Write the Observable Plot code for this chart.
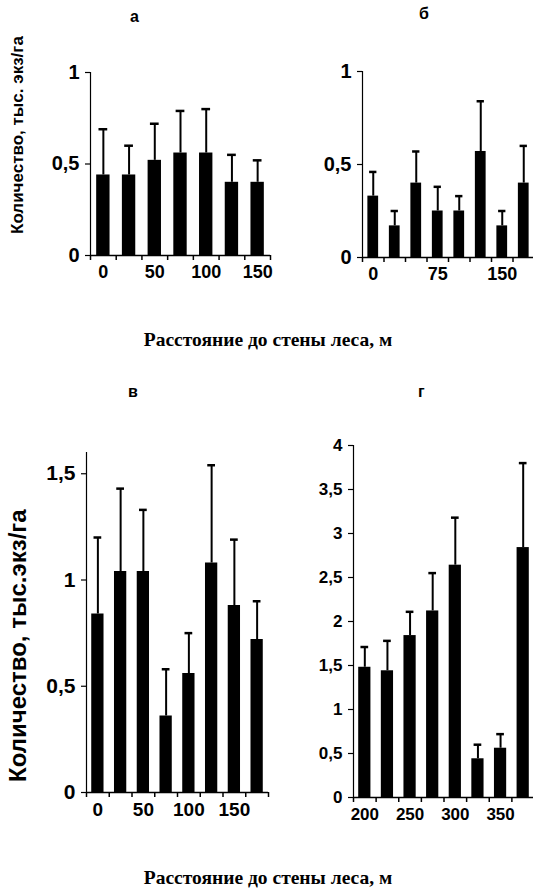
<!DOCTYPE html>
<html>
<head>
<meta charset="utf-8">
<script src="https://cdn.jsdelivr.net/npm/d3@7"></script>
<script src="https://cdn.jsdelivr.net/npm/@observablehq/plot@0.6"></script>
<style>
  body { margin: 0; background: #fff; }
  #wrap { position: relative; width: 533px; height: 892px; overflow: hidden; background: #fff; }
  .panel { position: absolute; }
  .lbl { position: absolute; font-family: "Liberation Sans", Arial, sans-serif; font-weight: bold; color: #000; white-space: nowrap; }
  .ttl { position: absolute; font-family: "Liberation Serif", "Times New Roman", serif; font-weight: bold; color: #000; white-space: nowrap; font-size: 19.5px; transform: translateX(-50%); }
  .ylab { position: absolute; font-family: "Liberation Sans", Arial, sans-serif; font-weight: bold; color: #000; white-space: nowrap; transform-origin: 0 0; }
</style>
</head>
<body>
<div id="wrap"></div>
<script>
// Panel а
const catsA = [0, 25, 50, 75, 100, 125, 150];
const valsA = [0.44, 0.44, 0.52, 0.56, 0.56, 0.40, 0.40];
const errsA = [0.69, 0.60, 0.72, 0.79, 0.80, 0.55, 0.52];
const xLabelsA = [0, 50, 100, 150];
const yTicksA = [0, 0.5, 1];

// Panel б
const catsB = [0, 25, 50, 75, 100, 125, 150, 175];
const valsB = [0.33, 0.17, 0.40, 0.25, 0.25, 0.57, 0.17, 0.40];
const errsB = [0.46, 0.25, 0.57, 0.38, 0.33, 0.84, 0.25, 0.60];
const xLabelsB = [0, 75, 150];
const yTicksB = [0, 0.5, 1];

// Panel в
const catsV = [0, 25, 50, 75, 100, 125, 150, 175];
const valsV = [0.84, 1.04, 1.04, 0.36, 0.56, 1.08, 0.88, 0.72];
const errsV = [1.20, 1.43, 1.33, 0.58, 0.75, 1.54, 1.19, 0.90];
const xLabelsV = [0, 50, 100, 150];
const yTicksV = [0, 0.5, 1, 1.5];

// Panel г
const catsG = [200, 225, 250, 275, 300, 325, 350, 375];
const valsG = [1.48, 1.44, 1.84, 2.12, 2.64, 0.44, 0.56, 2.84];
const errsG = [1.71, 1.78, 2.11, 2.55, 3.18, 0.60, 0.72, 3.80];
const xLabelsG = [200, 250, 300, 350];
const yTicksG = [0, 0.5, 1, 1.5, 2, 2.5, 3, 3.5, 4];

const panelTitles = ["а", "б", "в", "г"];
const xTitle = "Расстояние до стены леса, м";
const yTitleTop = "Количество, тыс. экз/га";
const yTitleBottom = "Количество, тыс.экз/га";

const wrap = document.getElementById("wrap");
const fmt = d => String(d).replace(".", ",");

function panel(cfg) {
  const {cats, vals, errs, xLabels, yTicks, yMax, left, top, width, height, ml, mr, mt, mb, barFrac, fontSize, yFontSize} = cfg;
  const step = cats[1] - cats[0];
  const data = cats.map((x, i) => ({x, v: vals[i], e: errs[i]}));
  const x0 = cats[0] - step / 2, x1 = cats[cats.length - 1] + step / 2;
  const bounds = cats.map(c => c - step / 2).concat([x1]);
  const chart = Plot.plot({
    width, height,
    marginLeft: ml, marginRight: mr, marginTop: mt, marginBottom: mb,
    style: {fontFamily: "'Liberation Sans', Arial, sans-serif", fontWeight: "bold", fontSize: fontSize + "px", color: "#000", background: "transparent", overflow: "visible"},
    x: {type: "linear", domain: [x0, x1]},
    y: {domain: [0, yMax]},
    marks: [
      Plot.rectY(data, {x1: d => d.x - step * barFrac / 2, x2: d => d.x + step * barFrac / 2, y: "v", fill: "#000"}),
      Plot.ruleX(data, {x: "x", y1: "v", y2: "e", stroke: "#000", strokeWidth: 2}),
      Plot.ruleY(data, {y: "e", x1: d => d.x - step * 0.17, x2: d => d.x + step * 0.17, stroke: "#000", strokeWidth: 2.5}),
      Plot.ruleX([x0], {y1: 0, y2: yMax, stroke: "#000", strokeWidth: 1.2}),
      Plot.ruleY([0], {x1: x0, x2: x1, stroke: "#000", strokeWidth: 1.5}),
      Plot.axisX({ticks: bounds, tickFormat: () => "", tickSize: 5, strokeWidth: 1.5, label: null}),
      Plot.axisX({ticks: xLabels, tickSize: 0, tickPadding: 10, label: null, tickFormat: d => String(d)}),
      Plot.axisY({ticks: yTicks, tickSize: 5, tickPadding: 6, tickFormat: fmt, label: null, strokeWidth: 1.2, fontSize: yFontSize})
    ]
  });
  chart.classList.add("panel");
  chart.style.left = left + "px";
  chart.style.top = top + "px";
  wrap.appendChild(chart);
}

panel({cats: catsA, vals: valsA, errs: errsA, xLabels: xLabelsA, yTicks: yTicksA, yMax: 1,
  left: 0, top: 0, width: 280, height: 300, ml: 90, mr: 10, mt: 72, mb: 45, barFrac: 0.52, fontSize: 18, yFontSize: 20});
panel({cats: catsB, vals: valsB, errs: errsB, xLabels: xLabelsB, yTicks: yTicksB, yMax: 1,
  left: 270, top: 0, width: 264, height: 300, ml: 92, mr: 0, mt: 71, mb: 43, barFrac: 0.5, fontSize: 18, yFontSize: 20});
panel({cats: catsV, vals: valsV, errs: errsV, xLabels: xLabelsV, yTicks: yTicksV, yMax: 1.6,
  left: 0, top: 380, width: 280, height: 470, ml: 86, mr: 12, mt: 72, mb: 58, barFrac: 0.54, fontSize: 19, yFontSize: 21});
panel({cats: catsG, vals: valsG, errs: errsG, xLabels: xLabelsG, yTicks: yTicksG, yMax: 4,
  left: 270, top: 380, width: 264, height: 470, ml: 83, mr: 0, mt: 65, mb: 53, barFrac: 0.54, fontSize: 17, yFontSize: 17});

function addDiv(cls, text, style) {
  const d = document.createElement("div");
  d.className = cls;
  d.textContent = text;
  Object.assign(d.style, style);
  wrap.appendChild(d);
  return d;
}
addDiv("lbl", panelTitles[0], {left: "130px", top: "8px", fontSize: "16px"});
addDiv("lbl", panelTitles[1], {left: "419px", top: "5px", fontSize: "16px"});
addDiv("lbl", panelTitles[2], {left: "128px", top: "383px", fontSize: "16px"});
addDiv("lbl", panelTitles[3], {left: "418px", top: "383px", fontSize: "16px"});
addDiv("ttl", xTitle, {left: "268px", top: "329px"});
addDiv("ttl", xTitle, {left: "268px", top: "867px"});
addDiv("ylab", yTitleTop, {left: "8px", top: "234px", fontSize: "17px", transform: "rotate(-90deg)"});
addDiv("ylab", yTitleBottom, {left: "4px", top: "782px", fontSize: "24px", transform: "rotate(-90deg)"});
</script>
</body>
</html>
